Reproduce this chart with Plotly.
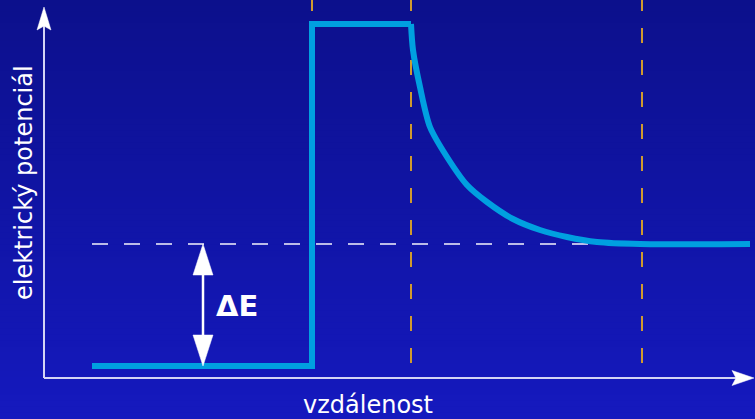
import plotly.graph_objects as go

# Potential levels (arbitrary units)
level_low = 0.12      # inside the well
level_high = 3.54     # top of the barrier
level_final = 1.34    # far field after the decay

# Positions along the distance axis (arbitrary units)
x_start = 0.48
x_step = 2.68
x_barrier_end = 3.67
x_decay_end = 5.98
x_end = 7.06
x_delta_arrow = 1.59

# Well, abrupt step and flat barrier top
step_x = [x_start, x_step, x_step, x_barrier_end]
step_y = [level_low, level_low, level_high, level_high]

# Decay of the potential behind the barrier towards the far-field level
decay_x = [x_barrier_end, 3.69, 3.76, 3.86, 4.03, 4.23, 4.43, 4.69, 4.96, 5.23, 5.53, 5.96, x_end]
decay_y = [level_high, 3.28, 2.91, 2.51, 2.21, 1.93, 1.76, 1.59, 1.48, 1.41, 1.36, level_final, level_final]

boundary_x = [x_step, x_barrier_end, x_decay_end]

x_label = "vzdálenost"
y_label = "elektrický potenciál"
delta_label = "ΔE"

X_RANGE = [-0.44, 7.11]
Y_RANGE = [-0.41, 3.78]

CURVE_COLOR = "#00a0e0"

fig = go.Figure()

# vertical background gradient built from thin bands
n_bands = 70
top_rgb = (12, 16, 140)
bot_rgb = (21, 25, 190)
shapes = []
for i in range(n_bands):
    t = i / (n_bands - 1)
    r = round(top_rgb[0] + (bot_rgb[0] - top_rgb[0]) * t)
    g = round(top_rgb[1] + (bot_rgb[1] - top_rgb[1]) * t)
    b = round(top_rgb[2] + (bot_rgb[2] - top_rgb[2]) * t)
    y1 = 1 - i / n_bands
    y0 = 1 - (i + 1) / n_bands
    shapes.append(dict(type="rect", xref="paper", yref="paper",
                       x0=0, x1=1, y0=y0 - 0.002, y1=y1 + 0.002,
                       fillcolor=f"rgb({r},{g},{b})", line=dict(width=0),
                       layer="below"))

# dashed boundary markers
for bx in boundary_x:
    shapes.append(dict(type="line", xref="x", yref="y",
                       x0=bx, x1=bx, y0=3.82, y1=0.08,
                       line=dict(color="#d09a2e", width=2, dash="15px,17px"),
                       layer="below"))

# dashed reference level
shapes.append(dict(type="line", xref="x", yref="y",
                   x0=x_start, x1=5.96, y0=level_final, y1=level_final,
                   line=dict(color="#bcbce8", width=2, dash="16px,16px"),
                   layer="below"))

# axes with arrowheads
axis_color = "#d4d4f4"
shapes.append(dict(type="line", xref="x", yref="y", x0=0, x1=0, y0=0, y1=3.55,
                   line=dict(color=axis_color, width=2)))
shapes.append(dict(type="line", xref="x", yref="y", x0=0, x1=6.92, y0=0, y1=0,
                   line=dict(color=axis_color, width=2)))
shapes.append(dict(type="path", xref="x", yref="y", xsizemode="pixel", ysizemode="pixel",
                   xanchor=0, yanchor=3.71,
                   path="M0,0 L-7,-23 L0,-19 L7,-23 Z",
                   fillcolor="white", line=dict(color="white", width=0.5)))
shapes.append(dict(type="path", xref="x", yref="y", xsizemode="pixel", ysizemode="pixel",
                   xanchor=7.10, yanchor=0,
                   path="M0,0 L-22,7.5 L-18,0 L-22,-7.5 Z",
                   fillcolor="white", line=dict(color="white", width=0.5)))

# ΔE double arrow
shapes.append(dict(type="line", xref="x", yref="y",
                   x0=x_delta_arrow, x1=x_delta_arrow, y0=level_final - 0.2, y1=level_low + 0.2,
                   line=dict(color="white", width=2.5)))
shapes.append(dict(type="path", xref="x", yref="y", xsizemode="pixel", ysizemode="pixel",
                   xanchor=x_delta_arrow, yanchor=level_final,
                   path="M0,0 L-10,-31 L10,-31 Z",
                   fillcolor="white", line=dict(color="white", width=0.5)))
shapes.append(dict(type="path", xref="x", yref="y", xsizemode="pixel", ysizemode="pixel",
                   xanchor=x_delta_arrow, yanchor=level_low,
                   path="M0,0 L-10,31 L10,31 Z",
                   fillcolor="white", line=dict(color="white", width=0.5)))

fig.add_trace(go.Scatter(
    x=step_x, y=step_y, mode="lines",
    line=dict(color=CURVE_COLOR, width=6),
    hoverinfo="skip", showlegend=False,
))
fig.add_trace(go.Scatter(
    x=decay_x, y=decay_y, mode="lines",
    line=dict(color=CURVE_COLOR, width=6, shape="spline", smoothing=0.8),
    hoverinfo="skip", showlegend=False,
))

annotations = [
    dict(x=-0.20, y=1.95, xref="x", yref="y", text=y_label, textangle=-90,
         showarrow=False, font=dict(family="DejaVu Sans", size=24, color="white")),
    dict(x=3.24, y=-0.27, xref="x", yref="y", text=x_label,
         showarrow=False, font=dict(family="DejaVu Sans", size=24, color="white")),
    dict(x=1.93, y=0.72, xref="x", yref="y", text=f"<b>{delta_label}</b>",
         showarrow=False, font=dict(family="DejaVu Sans", size=29, color="white")),
]

fig.update_layout(
    width=755, height=419,
    margin=dict(l=0, r=0, t=0, b=0),
    paper_bgcolor="rgb(16,20,165)",
    plot_bgcolor="rgba(0,0,0,0)",
    xaxis=dict(range=X_RANGE, visible=False, fixedrange=True),
    yaxis=dict(range=Y_RANGE, visible=False, fixedrange=True),
    shapes=shapes,
    annotations=annotations,
    showlegend=False,
)

fig.write_html("out.html")
